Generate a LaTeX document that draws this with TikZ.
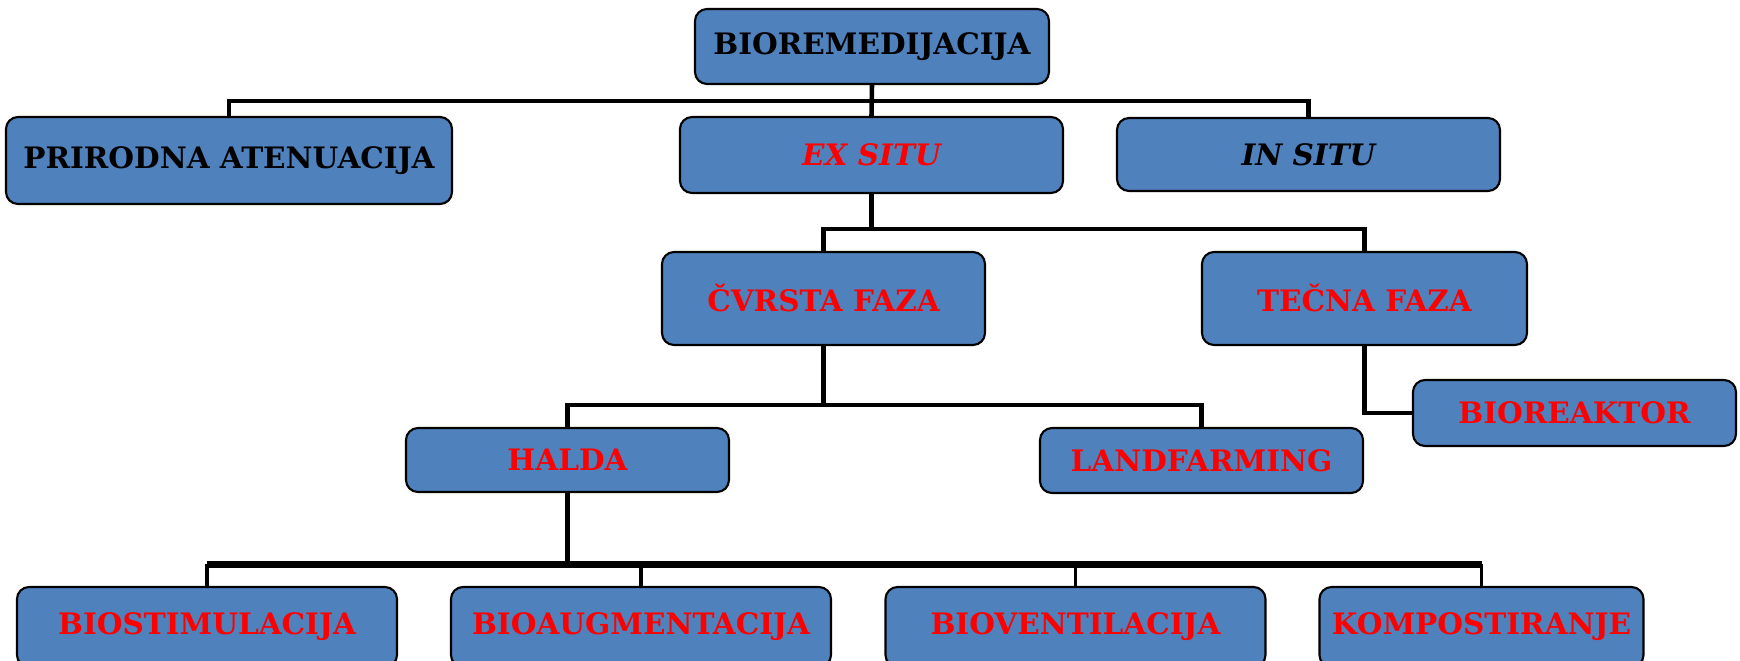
\documentclass[tikz,border=0pt]{standalone}
\usepackage{fontspec}
\setmainfont{DejaVu Serif}
\usepackage{tikz}

\definecolor{plava}{HTML}{4F81BD}
\tikzset{
  blok/.style={rectangle, draw=black, line width=0.6pt, fill=plava, rounded corners=0.12cm,
    inner sep=0pt, font=\fontsize{8.4}{10}\selectfont\bfseries},
  crveno/.style={text=red},
  veza/.style={line width=1.3pt},
}

\begin{document}
\begin{tikzpicture}
\clip (0,0) rectangle (17.4,-6.6);
\node[blok, minimum width=3.54cm, minimum height=0.75cm] (B) at (8.72,-0.465) {BIOREMEDIJACIJA};
\node[blok, minimum width=4.46cm, minimum height=0.87cm] (PA) at (2.29,-1.605) {PRIRODNA ATENUACIJA};
\node[blok, crveno, minimum width=3.83cm, minimum height=0.76cm] (EX) at (8.715,-1.55) {\itshape EX SITU};
\node[blok, minimum width=3.83cm, minimum height=0.73cm] (IN) at (13.085,-1.545) {\itshape IN SITU};

\node[blok, crveno, minimum width=3.23cm, minimum height=0.93cm] (CF) at (8.235,-2.985) {ČVRSTA FAZA};
\node[blok, crveno, minimum width=3.25cm, minimum height=0.93cm] (TF) at (13.645,-2.985) {TEČNA FAZA};
\node[blok, crveno, minimum width=3.23cm, minimum height=0.66cm] (BR) at (15.745,-4.13) {BIOREAKTOR};

\node[blok, crveno, minimum width=3.23cm, minimum height=0.64cm] (H) at (5.675,-4.60) {HALDA};
\node[blok, crveno, minimum width=3.23cm, minimum height=0.65cm] (LF) at (12.015,-4.605) {LANDFARMING};

\node[blok, crveno, minimum width=3.80cm, minimum height=0.80cm] (BS) at (2.07,-6.27) {BIOSTIMULACIJA};
\node[blok, crveno, minimum width=3.80cm, minimum height=0.80cm] (BA) at (6.41,-6.27) {BIOAUGMENTACIJA};
\node[blok, crveno, minimum width=3.80cm, minimum height=0.80cm] (BV) at (10.755,-6.27) {BIOVENTILACIJA};
\node[blok, crveno, minimum width=3.24cm, minimum height=0.80cm] (KO) at (14.815,-6.27) {KOMPOSTIRANJE};

% prvi nivo
\path (B.south) ++(0,-0.16) coordinate (t1);
\draw[veza] (B.south) -- (EX.north);
\draw[veza] (PA.north) -- (PA.north |- t1) -- (IN.north |- t1) -- (IN.north);

% ex situ
\path (EX.south) ++(0,-0.35) coordinate (t2);
\draw[veza] (EX.south) -- (t2);
\draw[veza] (CF.north) -- (CF.north |- t2) -- (TF.north |- t2) -- (TF.north);
\draw[veza] (TF.south) |- (BR.west);

% cvrsta faza
\path (CF.south) ++(0,-0.59) coordinate (t3);
\draw[veza] (CF.south) -- (t3);
\draw[veza] (H.north) -- (H.north |- t3) -- (LF.north |- t3) -- (LF.north);

% halda
\path (H.south) ++(0,-0.71) coordinate (t4);
\draw[veza] (H.south) -- (t4);
\draw[line width=2pt] (BS.north |- t4) -- (KO.north |- t4);
\foreach \n in {BS,BA,BV,KO}
  \draw[line width=1pt] (\n.north) -- (\n.north |- t4);
\end{tikzpicture}
\end{document}
